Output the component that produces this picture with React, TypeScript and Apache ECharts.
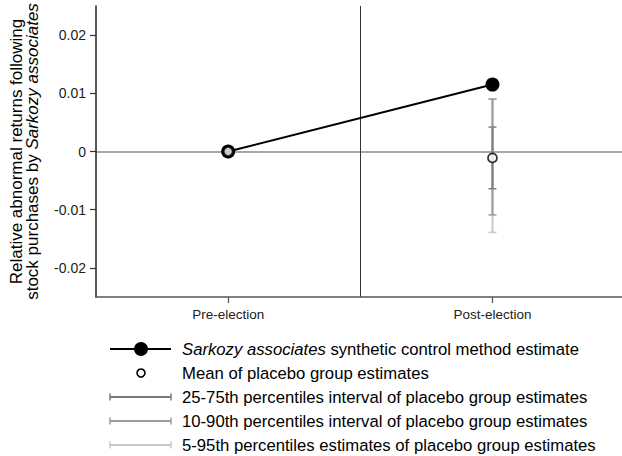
import React, { useEffect, useRef } from "react";
import * as echarts from "echarts";

const categories = ["Pre-election", "Post-election"];
const categoryPositions = [1, 2];
const scmEstimate = [0, 0.0115];
const placeboMean = [0, -0.0011];
const p05 = [0, -0.0139];
const p10 = [0, -0.0109];
const p25 = [0, -0.0064];
const p75 = [0, 0.0042];
const p90 = [0, 0.009];
const p95 = [0, 0.009];
const yTicks = [-0.02, -0.01, 0, 0.01, 0.02];

const FONT = "'Liberation Sans', Arial, Helvetica, sans-serif";
const bandColors = ["#c8c8c8", "#9c9c9c", "#808080"];
const legendColors = ["#7a7a7a", "#9c9c9c", "#c8c8c8"];

export default function App() {
  const ref = useRef<HTMLDivElement>(null);
  useEffect(() => {
    if (!ref.current) return;
    const chart = echarts.init(ref.current, null, { renderer: "svg" });

    const bands: any[] = [];
    categoryPositions.forEach((x, i) => {
      bands.push([x, p05[i], p95[i], 0]);
      bands.push([x, p10[i], p90[i], 1]);
      bands.push([x, p25[i], p75[i], 2]);
    });

    const rows = [349, 373, 397, 421, 445];
    const lx1 = 110, lx2 = 171, lxm = 141, tx = 182;
    const graphics: any[] = [
      { type: "line", shape: { x1: lx1, y1: rows[0], x2: lx2, y2: rows[0] }, style: { stroke: "#000", lineWidth: 2 } },
      { type: "circle", shape: { cx: lxm, cy: rows[0], r: 7 }, style: { fill: "#000" } },
      { type: "circle", shape: { cx: lxm, cy: rows[1], r: 4 }, style: { fill: "#fff", stroke: "#000", lineWidth: 1.6 } },
    ];
    [0, 1, 2].forEach((k) => {
      const y = rows[2 + k];
      const c = legendColors[k];
      graphics.push({ type: "line", shape: { x1: lx1, y1: y, x2: lx2, y2: y }, style: { stroke: c, lineWidth: 2 } });
      graphics.push({ type: "line", shape: { x1: lx1, y1: y - 3.5, x2: lx1, y2: y + 3.5 }, style: { stroke: c, lineWidth: 1.5 } });
      graphics.push({ type: "line", shape: { x1: lx2, y1: y - 3.5, x2: lx2, y2: y + 3.5 }, style: { stroke: c, lineWidth: 1.5 } });
    });
    const legendTexts = [
      "{i|Sarkozy associates} synthetic control method estimate",
      "Mean of placebo group estimates",
      "25-75th percentiles interval of placebo group estimates",
      "10-90th percentiles interval of placebo group estimates",
      "5-95th percentiles estimates of placebo group estimates",
    ];
    legendTexts.forEach((t, k) => {
      graphics.push({
        type: "text",
        x: tx,
        y: rows[k],
        style: {
          text: t,
          fontSize: 16.7,
          fontFamily: FONT,
          fill: "#000",
          verticalAlign: "middle",
          align: "left",
          rich: { i: { fontStyle: "italic", fontSize: 16.7, fontFamily: FONT, fill: "#000" } },
        },
      });
    });

    chart.setOption({
      animation: false,
      backgroundColor: "#fff",
      grid: { left: 96, right: 0, top: 6, bottom: 159, containLabel: false, outerBoundsMode: "none" },
      xAxis: {
        type: "value",
        min: 0.5,
        max: 2.49,
        axisLine: { show: true, onZero: false, lineStyle: { color: "#555", width: 1.5 } },
        axisTick: { show: true, customValues: categoryPositions, length: 6, lineStyle: { color: "#555", width: 1.2 } },
        axisLabel: {
          customValues: categoryPositions,
          formatter: (v: number) => categories[Math.round(v) - 1] ?? "",
          fontSize: 13.5,
          fontFamily: FONT,
          color: "#222",
          margin: 10,
        },
        splitLine: { show: false },
      },
      yAxis: {
        type: "value",
        min: -0.025,
        max: 0.025,
        name: "Relative abnormal returns following\nstock purchases by {i|Sarkozy associates}",
        nameLocation: "middle",
        nameRotate: 90,
        nameGap: 56,
        nameTextStyle: {
          fontSize: 17,
          fontFamily: FONT,
          color: "#000",
          lineHeight: 16,
          rich: { i: { fontStyle: "italic", fontSize: 17, fontFamily: FONT, color: "#000", lineHeight: 16 } },
        },
        axisLine: { show: true, onZero: false, lineStyle: { color: "#222", width: 1.5 } },
        axisTick: { show: true, customValues: yTicks, length: 6, lineStyle: { color: "#333", width: 1.2 } },
        axisLabel: {
          customValues: yTicks,
          formatter: (v: number) => (Math.abs(v) < 1e-9 ? "0" : v.toFixed(2)),
          fontSize: 14,
          fontFamily: FONT,
          color: "#222",
          margin: 10,
        },
        splitLine: { show: false },
      },
      series: [
        {
          type: "custom",
          name: "Placebo percentile intervals",
          z: 1,
          silent: true,
          data: bands,
          renderItem: (params: any, api: any) => {
            const x = api.value(0);
            const lo = api.coord([x, api.value(1)]);
            const hi = api.coord([x, api.value(2)]);
            const color = bandColors[api.value(3)];
            const hw = 4;
            return {
              type: "group",
              children: [
                { type: "line", shape: { x1: lo[0], y1: lo[1], x2: hi[0], y2: hi[1] }, style: { stroke: color, lineWidth: 2 } },
                { type: "line", shape: { x1: lo[0] - hw, y1: lo[1], x2: lo[0] + hw, y2: lo[1] }, style: { stroke: color, lineWidth: 1.5 } },
                { type: "line", shape: { x1: hi[0] - hw, y1: hi[1], x2: hi[0] + hw, y2: hi[1] }, style: { stroke: color, lineWidth: 1.5 } },
              ],
            };
          },
        },
        {
          type: "line",
          name: "Sarkozy associates synthetic control method estimate",
          z: 3,
          data: categoryPositions.map((x, i) => [x, scmEstimate[i]]),
          symbol: "circle",
          symbolSize: 14,
          lineStyle: { color: "#000", width: 2 },
          itemStyle: { color: "#000" },
          markLine: {
            silent: true,
            symbol: "none",
            label: { show: false },
            z: 0,
            data: [
              { yAxis: 0, lineStyle: { color: "#8a8a8a", width: 1.5, type: "solid" } },
              { xAxis: 1.5, lineStyle: { color: "#333", width: 1, type: "solid" } },
            ],
          },
        },
        {
          type: "scatter",
          name: "Mean of placebo group estimates",
          z: 4,
          data: categoryPositions.map((x, i) => [x, placeboMean[i]]),
          symbol: "circle",
          symbolSize: 9,
          itemStyle: { color: "#fff", borderColor: "#000", borderWidth: 1.8 },
        },
      ],
      graphic: graphics,
    });
    return () => chart.dispose();
  }, []);
  return <div ref={ref} style={{ position: "absolute", left: 0, top: 0, width: 622, height: 456 }} />;
}
